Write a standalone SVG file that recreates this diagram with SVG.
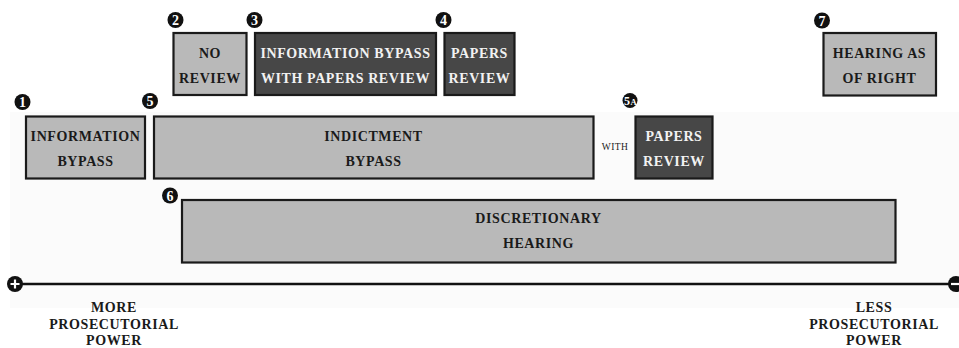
<svg xmlns="http://www.w3.org/2000/svg" width="959" height="348" viewBox="0 0 959 348">
<style>
.lt{fill:#b9b9b9;stroke:#1a1a1a;stroke-width:2.2}
.dk{fill:#474747;stroke:#1a1a1a;stroke-width:2.2}
.t{font-family:"Liberation Serif","Times New Roman",serif;font-weight:bold;font-size:14px;letter-spacing:0.6px;text-anchor:middle;fill:#1a1a1a}
.tw{fill:#f2f2f2}
.bd{fill:#111}
.bn{font-family:"Liberation Serif","Times New Roman",serif;font-weight:bold;font-size:14px;text-anchor:middle;fill:#fff}
.w{font-family:"Liberation Serif","Times New Roman",serif;font-size:9.5px;letter-spacing:0.4px;text-anchor:middle;fill:#222}
</style>
<rect x="0" y="0" width="959" height="348" fill="#fff"/>
<rect x="10" y="112" width="949" height="196" fill="#fbfbfb"/>
<g id="connectors">
<line x1="15" y1="284" x2="956" y2="284" stroke="#111" stroke-width="2.5"/>
</g>
<g id="plus">
<circle cx="15" cy="284" r="8" class="bd"/>
<path d="M10.5 284H19.5M15 279.5V288.5" stroke="#fff" stroke-width="2.2"/>
</g>
<g id="minus">
<circle cx="956" cy="284" r="8" class="bd"/>
<path d="M951 284H961" stroke="#fff" stroke-width="2.2"/>
</g>
<g id="n1">
<circle cx="22.5" cy="102" r="8" class="bd"/><text x="22.5" y="107" class="bn">1</text>
<rect x="26" y="116.5" width="119" height="62" class="lt"/>
<text x="85.5" y="141" class="t">INFORMATION</text>
<text x="85.5" y="166" class="t">BYPASS</text>
</g>
<g id="n2">
<circle cx="175.5" cy="20" r="8" class="bd"/><text x="175.5" y="25" class="bn">2</text>
<rect x="173.5" y="33" width="73" height="62" class="lt"/>
<text x="210" y="58" class="t">NO</text>
<text x="210" y="83" class="t">REVIEW</text>
</g>
<g id="n3">
<circle cx="254.5" cy="20" r="8" class="bd"/><text x="254.5" y="25" class="bn">3</text>
<rect x="255" y="33" width="181" height="62" class="dk"/>
<text x="345.5" y="58" class="t tw">INFORMATION BYPASS</text>
<text x="345.5" y="83" class="t tw">WITH PAPERS REVIEW</text>
</g>
<g id="n4">
<circle cx="443.5" cy="20" r="8" class="bd"/><text x="443.5" y="25" class="bn">4</text>
<rect x="444.5" y="33" width="70" height="62" class="dk"/>
<text x="479.5" y="58" class="t tw">PAPERS</text>
<text x="479.5" y="83" class="t tw">REVIEW</text>
</g>
<g id="n5">
<circle cx="150" cy="101" r="8" class="bd"/><text x="150" y="106" class="bn">5</text>
<rect x="154" y="116.5" width="439.5" height="62" class="lt"/>
<text x="373.5" y="141" class="t">INDICTMENT</text>
<text x="373.5" y="166" class="t">BYPASS</text>
</g>
<text x="615" y="150" class="w">WITH</text>
<g id="n5a">
<circle cx="630" cy="100.5" r="7.5" class="bd"/>
<text x="627" y="105" class="bn" style="font-size:12px">5</text>
<text x="633.5" y="105" class="bn" style="font-size:8.5px">A</text>
<rect x="635.5" y="116.5" width="77" height="62" class="dk"/>
<text x="674" y="141" class="t tw">PAPERS</text>
<text x="674" y="166" class="t tw">REVIEW</text>
</g>
<g id="n6">
<circle cx="170" cy="195.5" r="8" class="bd"/><text x="170" y="200.5" class="bn">6</text>
<rect x="182" y="200" width="713.5" height="62.5" class="lt"/>
<text x="538.5" y="223" class="t">DISCRETIONARY</text>
<text x="538.5" y="248" class="t">HEARING</text>
</g>
<g id="n7">
<circle cx="822" cy="20.5" r="8" class="bd"/><text x="822" y="25.5" class="bn">7</text>
<rect x="823.5" y="33" width="112.5" height="62.5" class="lt"/>
<text x="879.5" y="58" class="t">HEARING AS</text>
<text x="879.5" y="83" class="t">OF RIGHT</text>
</g>
<g id="more">
<text x="114" y="312" class="t">MORE</text>
<text x="114" y="328.5" class="t">PROSECUTORIAL</text>
<text x="114" y="345" class="t">POWER</text>
</g>
<g id="less">
<text x="874" y="312" class="t">LESS</text>
<text x="874" y="328.5" class="t">PROSECUTORIAL</text>
<text x="874" y="345" class="t">POWER</text>
</g>
</svg>
